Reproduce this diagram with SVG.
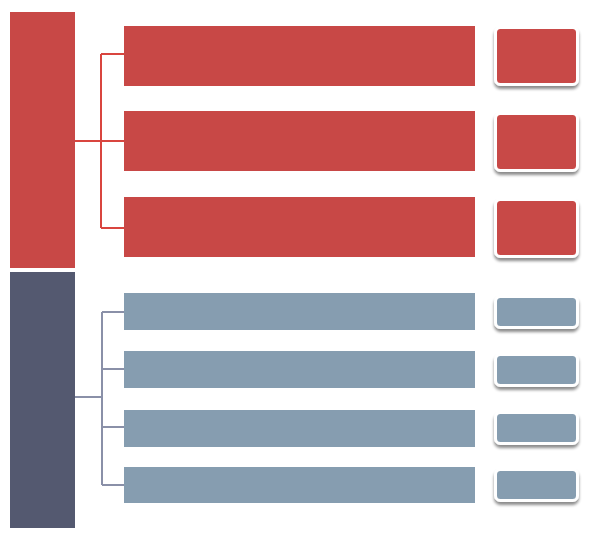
<svg xmlns="http://www.w3.org/2000/svg" width="596" height="535" viewBox="0 0 596 535">
<style>
.red{fill:#C84846}
.blue{fill:#869DB0}
.dark{fill:#545970}
.tag{stroke:#FFFFFF;stroke-width:3;filter:url(#sh)}
.lr{fill:none;stroke:#D9453F;stroke-width:2}
.lb{fill:none;stroke:#8A90A8;stroke-width:2}
</style>
<defs>
<filter id="sh" x="-20%" y="-30%" width="140%" height="170%">
<feDropShadow dx="0" dy="3" stdDeviation="1.8" flood-color="#000" flood-opacity="0.45"/>
</filter>
</defs>
<rect width="596" height="535" fill="#FFFFFF"/>
<g id="connectors">
<path class="lr" d="M75 141H101M101 54V228M101 54H124M101 141H124M101 228H124"/>
<path class="lb" d="M75 397H102M102 312V485M102 312H124M102 369H124M102 427H124M102 485H124"/>
</g>
<g id="red-main"><rect class="red" x="10" y="12" width="65" height="256"/></g>
<g id="dark-main"><rect class="dark" x="10" y="272" width="65" height="256"/></g>
<g id="red-bar-1"><rect class="red" x="124" y="26" width="351" height="60"/></g>
<g id="red-bar-2"><rect class="red" x="124" y="111" width="351" height="60"/></g>
<g id="red-bar-3"><rect class="red" x="124" y="197" width="351" height="60"/></g>
<g id="red-tag-1"><rect class="red tag" x="495.5" y="27.5" width="82" height="57" rx="5"/></g>
<g id="red-tag-2"><rect class="red tag" x="495.5" y="113.5" width="82" height="57" rx="5"/></g>
<g id="red-tag-3"><rect class="red tag" x="495.5" y="199.5" width="82" height="57" rx="5"/></g>
<g id="blue-bar-1"><rect class="blue" x="124" y="293" width="351" height="37"/></g>
<g id="blue-bar-2"><rect class="blue" x="124" y="351" width="351" height="37"/></g>
<g id="blue-bar-3"><rect class="blue" x="124" y="410" width="351" height="37"/></g>
<g id="blue-bar-4"><rect class="blue" x="124" y="467" width="351" height="36"/></g>
<g id="blue-tag-1"><rect class="blue tag" x="495.5" y="296.5" width="82" height="31" rx="5"/></g>
<g id="blue-tag-2"><rect class="blue tag" x="495.5" y="354.5" width="82" height="31" rx="5"/></g>
<g id="blue-tag-3"><rect class="blue tag" x="495.5" y="412.5" width="82" height="31" rx="5"/></g>
<g id="blue-tag-4"><rect class="blue tag" x="495.5" y="469.5" width="82" height="31" rx="5"/></g>
</svg>
